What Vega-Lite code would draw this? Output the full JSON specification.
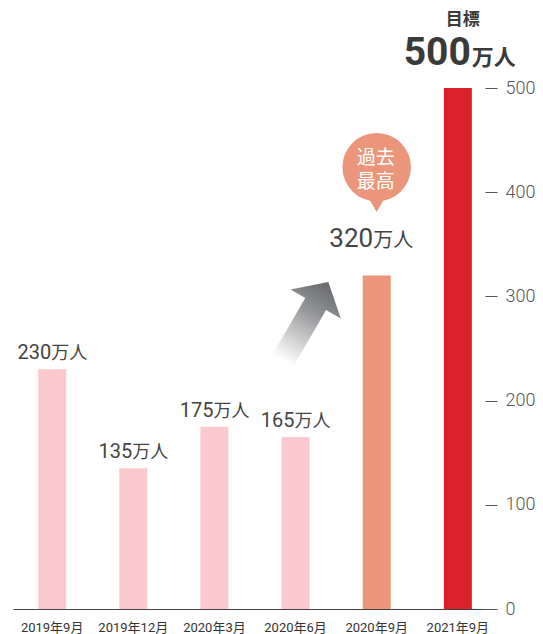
{
  "$schema": "https://vega.github.io/schema/vega-lite/v6.json",
  "autosize": {"type": "none"},
  "width": 484,
  "height": 521,
  "padding": {"left": 13, "top": 88, "right": 46, "bottom": 25},
  "background": "#ffffff",
  "config": {
    "view": {"stroke": null},
    "font": "Roboto, 'Noto Sans CJK JP', sans-serif",
    "text": {"font": "Roboto, 'Noto Sans CJK JP', sans-serif"}
  },
  "datasets": {
    "visitors": [
      {"month": "2019年9月", "value": 230, "type": "実績"},
      {"month": "2019年12月", "value": 135, "type": "実績"},
      {"month": "2020年3月", "value": 175, "type": "実績"},
      {"month": "2020年6月", "value": 165, "type": "実績"},
      {"month": "2020年9月", "value": 320, "type": "過去最高"},
      {"month": "2021年9月", "value": 500, "type": "目標"}
    ],
    "bubble": [
      {"month": "2020年9月", "y": 424, "kind": "circle", "label": "過去\n最高"}
    ],
    "pointer": [
      {"month": "2020年9月", "y": 388}
    ],
    "arrow": [
      {"month": "2020年6月", "y": 276}
    ]
  },
  "encoding": {
    "x": {
      "field": "month",
      "type": "nominal",
      "scale": {
        "domain": ["2019年9月", "2019年12月", "2020年3月", "2020年6月", "2020年9月", "2021年9月"],
        "paddingInner": 0.655,
        "paddingOuter": 0.31
      },
      "axis": {
        "title": null,
        "orient": "bottom",
        "ticks": false,
        "labelAngle": 0,
        "labelFontSize": 13,
        "labelColor": "#333333",
        "labelPadding": 12,
        "labelFont": "Roboto, 'Noto Sans CJK JP', sans-serif",
        "domainColor": "#444444",
        "domainWidth": 1
      }
    }
  },
  "layer": [
    {
      "data": {"name": "visitors"},
      "mark": {"type": "bar"},
      "encoding": {
        "y": {
          "field": "value",
          "type": "quantitative",
          "scale": {"domain": [0, 500], "nice": false},
          "axis": {
            "title": null,
            "orient": "right",
            "offset": -12,
            "domain": false,
            "grid": false,
            "values": [0, 100, 200, 300, 400, 500],
            "tickSize": 12,
            "tickColor": "#555555",
            "tickWidth": 1,
            "labelPadding": 8,
            "labelFontSize": 18,
            "labelFontWeight": 300,
            "labelColor": "#555555",
            "labelFont": "Roboto, sans-serif"
          }
        },
        "color": {
          "field": "type",
          "type": "nominal",
          "scale": {"domain": ["実績", "過去最高", "目標"], "range": ["#f9c9cd", "#eb967b", "#d9212b"]},
          "legend": null
        }
      }
    },
    {
      "data": {"name": "visitors"},
      "transform": [{"filter": "datum.type === '実績'"}],
      "mark": {"type": "text", "align": "right", "baseline": "alphabetic", "dx": -1, "dy": -10, "fontSize": 20, "color": "#444444"},
      "encoding": {"y": {"field": "value", "type": "quantitative"}, "text": {"field": "value", "type": "quantitative"}}
    },
    {
      "data": {"name": "visitors"},
      "transform": [{"filter": "datum.type === '実績'"}],
      "mark": {"type": "text", "text": "万人", "align": "left", "baseline": "alphabetic", "dx": -1, "dy": -10, "fontSize": 18, "color": "#444444"},
      "encoding": {"y": {"field": "value", "type": "quantitative"}}
    },
    {
      "data": {"name": "visitors"},
      "transform": [{"filter": "datum.type === '過去最高'"}],
      "mark": {"type": "text", "align": "right", "baseline": "alphabetic", "dx": -3.5, "dy": -29, "fontSize": 26, "color": "#444444"},
      "encoding": {"y": {"field": "value", "type": "quantitative"}, "text": {"field": "value", "type": "quantitative"}}
    },
    {
      "data": {"name": "visitors"},
      "transform": [{"filter": "datum.type === '過去最高'"}],
      "mark": {"type": "text", "text": "万人", "align": "left", "baseline": "alphabetic", "dx": -3.5, "dy": -29, "fontSize": 20, "color": "#444444"},
      "encoding": {"y": {"field": "value", "type": "quantitative"}}
    },
    {
      "data": {"name": "visitors"},
      "transform": [{"filter": "datum.type === '目標'"}],
      "mark": {"type": "text", "align": "right", "baseline": "alphabetic", "dx": 13, "dy": -23, "fontSize": 39, "fontWeight": "bold", "color": "#3a3a3a"},
      "encoding": {"y": {"field": "value", "type": "quantitative"}, "text": {"field": "value", "type": "quantitative"}}
    },
    {
      "data": {"name": "visitors"},
      "transform": [{"filter": "datum.type === '目標'"}],
      "mark": {"type": "text", "text": "万人", "align": "left", "baseline": "alphabetic", "dx": 14, "dy": -23, "fontSize": 22, "fontWeight": "bold", "color": "#3a3a3a"},
      "encoding": {"y": {"field": "value", "type": "quantitative"}}
    },
    {
      "data": {"name": "visitors"},
      "transform": [{"filter": "datum.type === '目標'"}],
      "mark": {"type": "text", "align": "center", "baseline": "alphabetic", "dx": 5, "dy": -63, "fontSize": 17, "fontWeight": "bold", "color": "#3a3a3a"},
      "encoding": {"y": {"field": "value", "type": "quantitative"}, "text": {"field": "type", "type": "nominal"}}
    },
    {
      "data": {"name": "bubble"},
      "mark": {"type": "circle", "size": 4700, "color": "#eb967b", "opacity": 1},
      "encoding": {"y": {"field": "y", "type": "quantitative"}}
    },
    {
      "data": {"name": "pointer"},
      "mark": {"type": "point", "shape": "triangle-down", "size": 289, "filled": true, "color": "#eb967b", "opacity": 1, "strokeWidth": 0},
      "encoding": {"y": {"field": "y", "type": "quantitative"}}
    },
    {
      "data": {"name": "bubble"},
      "mark": {"type": "text", "align": "center", "baseline": "middle", "lineBreak": "\n", "lineHeight": 24, "fontSize": 19, "color": "#ffffff", "dx": -1, "dy": -9},
      "encoding": {"y": {"field": "y", "type": "quantitative"}, "text": {"field": "label", "type": "nominal"}}
    },
    {
      "data": {"name": "arrow"},
      "mark": {
        "type": "point",
        "shape": "M0,-1L0.637,-0.444L0.264,-0.444L0.264,1L-0.264,1L-0.264,-0.444L-0.637,-0.444Z",
        "size": 8281,
        "angle": 30,
        "xOffset": 10,
        "filled": true,
        "opacity": 1,
        "strokeWidth": 0,
        "fill": {
          "gradient": "linear",
          "x1": 0, "y1": 1, "x2": 0, "y2": 0,
          "stops": [
            {"offset": 0, "color": "#ffffff"},
            {"offset": 0.65, "color": "#909194"},
            {"offset": 1, "color": "#66676b"}
          ]
        }
      },
      "encoding": {"y": {"field": "y", "type": "quantitative"}}
    }
  ]
}
